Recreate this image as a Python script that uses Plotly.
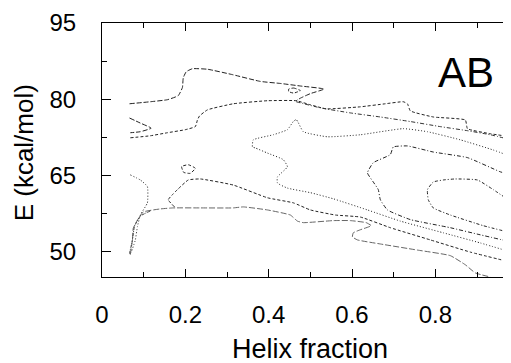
import plotly.graph_objects as go

# ---- contour lines (helix fraction, E in kcal/mol) ----
c1_x = [0.066, 0.116, 0.157, 0.183, 0.193, 0.195, 0.202, 0.217, 0.253, 0.315, 0.380, 0.428, 0.476, 0.533, 0.500, 0.476, 0.466]
c1_y = [79.1, 79.5, 79.9, 80.7, 82.3, 84.2, 85.4, 86.0, 85.9, 84.8, 83.5, 83.1, 82.6, 82.0, 81.1, 80.2, 79.7]

c2_x = [0.066, 0.092, 0.118, 0.092, 0.068]
c2_y = [76.3, 75.3, 74.3, 73.6, 73.4]

c3_x = [0.068, 0.116, 0.157, 0.200, 0.224, 0.229, 0.234, 0.253, 0.315, 0.397, 0.466, 0.500, 0.538, 0.620, 0.680, 0.723, 0.733, 0.740, 0.795, 0.872, 0.877, 0.932, 0.982]
c3_y = [72.4, 72.8, 73.4, 74.0, 74.6, 75.9, 76.7, 77.9, 79.1, 79.7, 79.7, 78.9, 78.1, 78.5, 79.1, 79.5, 79.1, 77.7, 76.5, 75.9, 74.2, 73.2, 72.6]

c4_x = [0.466, 0.524, 0.596, 0.668, 0.740, 0.812, 0.877, 0.932, 0.982]
c4_y = [79.5, 78.3, 77.3, 76.5, 75.6, 74.6, 73.8, 73.0, 72.0]

c5_x = [0.982, 0.939, 0.860, 0.781, 0.723, 0.620, 0.541, 0.483, 0.471, 0.466, 0.459, 0.445, 0.411, 0.363, 0.361, 0.368, 0.397, 0.435, 0.445, 0.421, 0.421, 0.445, 0.500, 0.555, 0.637, 0.716, 0.819, 0.908, 0.982]
c5_y = [68.7, 70.0, 72.0, 73.6, 74.2, 73.0, 72.6, 73.6, 75.4, 76.0, 75.6, 74.0, 73.0, 72.0, 70.6, 70.4, 69.4, 68.1, 66.7, 64.7, 63.5, 62.5, 61.6, 60.4, 58.2, 56.0, 53.7, 51.7, 49.9]

c6_x = [0.982, 0.956, 0.877, 0.795, 0.733, 0.699, 0.692, 0.651, 0.637, 0.651, 0.663, 0.668, 0.685, 0.740, 0.836, 0.908, 0.982]
c6_y = [65.1, 65.7, 68.5, 69.6, 70.8, 70.6, 69.1, 67.5, 65.5, 63.7, 62.2, 60.2, 58.2, 56.3, 54.7, 53.3, 51.9]

c7_x = [0.982, 0.939, 0.901, 0.848, 0.819, 0.795, 0.781, 0.783, 0.795, 0.836, 0.915, 0.982]
c7_y = [59.8, 62.2, 64.1, 64.3, 64.1, 63.7, 62.2, 60.2, 58.6, 57.2, 55.1, 53.7]

c8_x = [0.068, 0.073, 0.075, 0.085, 0.099, 0.140, 0.171, 0.236, 0.315, 0.339, 0.397, 0.452, 0.469, 0.483, 0.555, 0.596, 0.634, 0.646, 0.620, 0.603, 0.601, 0.613, 0.668, 0.757, 0.836, 0.872, 0.896, 0.932]
c8_y = [49.4, 52.3, 54.6, 56.2, 57.8, 58.4, 58.6, 58.6, 58.6, 58.8, 58.2, 57.2, 56.0, 55.7, 56.1, 56.1, 55.7, 55.1, 54.3, 53.7, 52.9, 52.3, 51.5, 50.3, 49.2, 47.4, 45.8, 45.0]

c9_x = [0.174, 0.159, 0.169, 0.181, 0.207, 0.236, 0.315, 0.397, 0.459, 0.500, 0.560, 0.620, 0.692, 0.788, 0.884, 0.982]
c9_y = [58.8, 60.2, 61.2, 62.2, 64.1, 64.3, 63.1, 60.6, 59.6, 58.2, 57.2, 56.8, 54.7, 52.3, 49.9, 47.9]

c10_x = [0.068, 0.092, 0.109, 0.109, 0.092, 0.085, 0.080, 0.070]
c10_y = [65.1, 64.1, 62.8, 59.6, 57.2, 54.9, 52.3, 49.8]

c11_x = [0.116, 0.092, 0.078, 0.073, 0.066]
c11_y = [58.0, 57.0, 55.0, 52.3, 49.6]

c12_x = [0.191, 0.207, 0.224, 0.212, 0.196, 0.191]
c12_y = [66.75, 67.1, 66.4, 65.4, 65.6, 66.75]

c13_x = [0.448, 0.460, 0.476, 0.460, 0.448, 0.448]
c13_y = [82.0, 82.2, 81.7, 81.2, 81.5, 82.0]

x_ticks = [0, 0.2, 0.4, 0.6, 0.8]
x_tick_text = ["0", "0.2", "0.4", "0.6", "0.8"]
y_ticks = [50, 65, 80, 95]
y_tick_text = ["50", "65", "80", "95"]

lines = [
    (c1_x, c1_y, "5px,2px", "#222"),
    (c2_x, c2_y, "5px,2px", "#222"),
    (c3_x, c3_y, "3px,2px", "#222"),
    (c4_x, c4_y, "4px,2px,1px,2px", "#333"),
    (c5_x, c5_y, "1px,2px", "#222"),
    (c6_x, c6_y, "4px,2px,1px,2px", "#222"),
    (c7_x, c7_y, "3px,2px,1px,2px", "#222"),
    (c8_x, c8_y, "6px,2px", "#666"),
    (c9_x, c9_y, "3px,2px", "#222"),
    (c10_x, c10_y, "1px,2px", "#222"),
    (c11_x, c11_y, "3px,1px,1px,1px", "#444"),
    (c12_x, c12_y, "3px,2px", "#222"),
    (c13_x, c13_y, "3px,2px", "#222"),
]

fig = go.Figure()
for xs, ys, dash, col in lines:
    fig.add_trace(go.Scatter(x=xs, y=ys, mode="lines",
                             line=dict(color=col, width=1, dash=dash, shape="spline", smoothing=0.4),
                             hoverinfo="skip", showlegend=False))

font_family = "Liberation Sans, Arial, Helvetica, sans-serif"

# the page body adds an 8px offset, so the figure is 8px smaller with 8px less top/left margin
fig.update_layout(
    width=503, height=355,
    margin=dict(l=94, r=0, t=15, b=86),
    paper_bgcolor="white", plot_bgcolor="white",
    font=dict(family=font_family, color="black"),
    xaxis=dict(range=[0, 0.9815], tickmode="array", tickvals=x_ticks, ticktext=x_tick_text,
               ticks="inside", ticklen=8, tickwidth=1, tickcolor="black",
               minor=dict(ticks="inside", ticklen=5, tickwidth=1, tickcolor="black", dtick=0.1, tick0=0),
               showline=True, linecolor="black", linewidth=1.2, mirror="ticks",
               showgrid=False, zeroline=False, tickfont=dict(size=24),
               ticklabelstandoff=16),
    yaxis=dict(range=[45, 95], tickmode="array", tickvals=y_ticks, ticktext=y_tick_text,
               ticks="inside", ticklen=9, tickwidth=1, tickcolor="black",
               minor=dict(ticks="inside", ticklen=5, tickwidth=1, tickcolor="black", dtick=7.5, tick0=50),
               showline=True, linecolor="black", linewidth=1.2, mirror=False,
               showgrid=False, zeroline=False, tickfont=dict(size=24),
               ticklabelstandoff=20),
    annotations=[
        dict(text="AB", x=0.874, y=85.3, xref="x", yref="y", showarrow=False,
             font=dict(size=42, family=font_family, color="black"), xanchor="center", yanchor="middle"),
        dict(text="Helix fraction", x=0.5, y=-0.283, xref="x", yref="paper", showarrow=False,
             font=dict(size=27, family=font_family, color="black"), xanchor="center", yanchor="middle"),
        dict(text="E (kcal/mol)", x=-0.19, y=0.488, xref="paper", yref="paper", showarrow=False,
             textangle=-90, font=dict(size=26, family=font_family, color="black"),
             xanchor="center", yanchor="middle"),
    ],
)

fig.write_html("out.html")
